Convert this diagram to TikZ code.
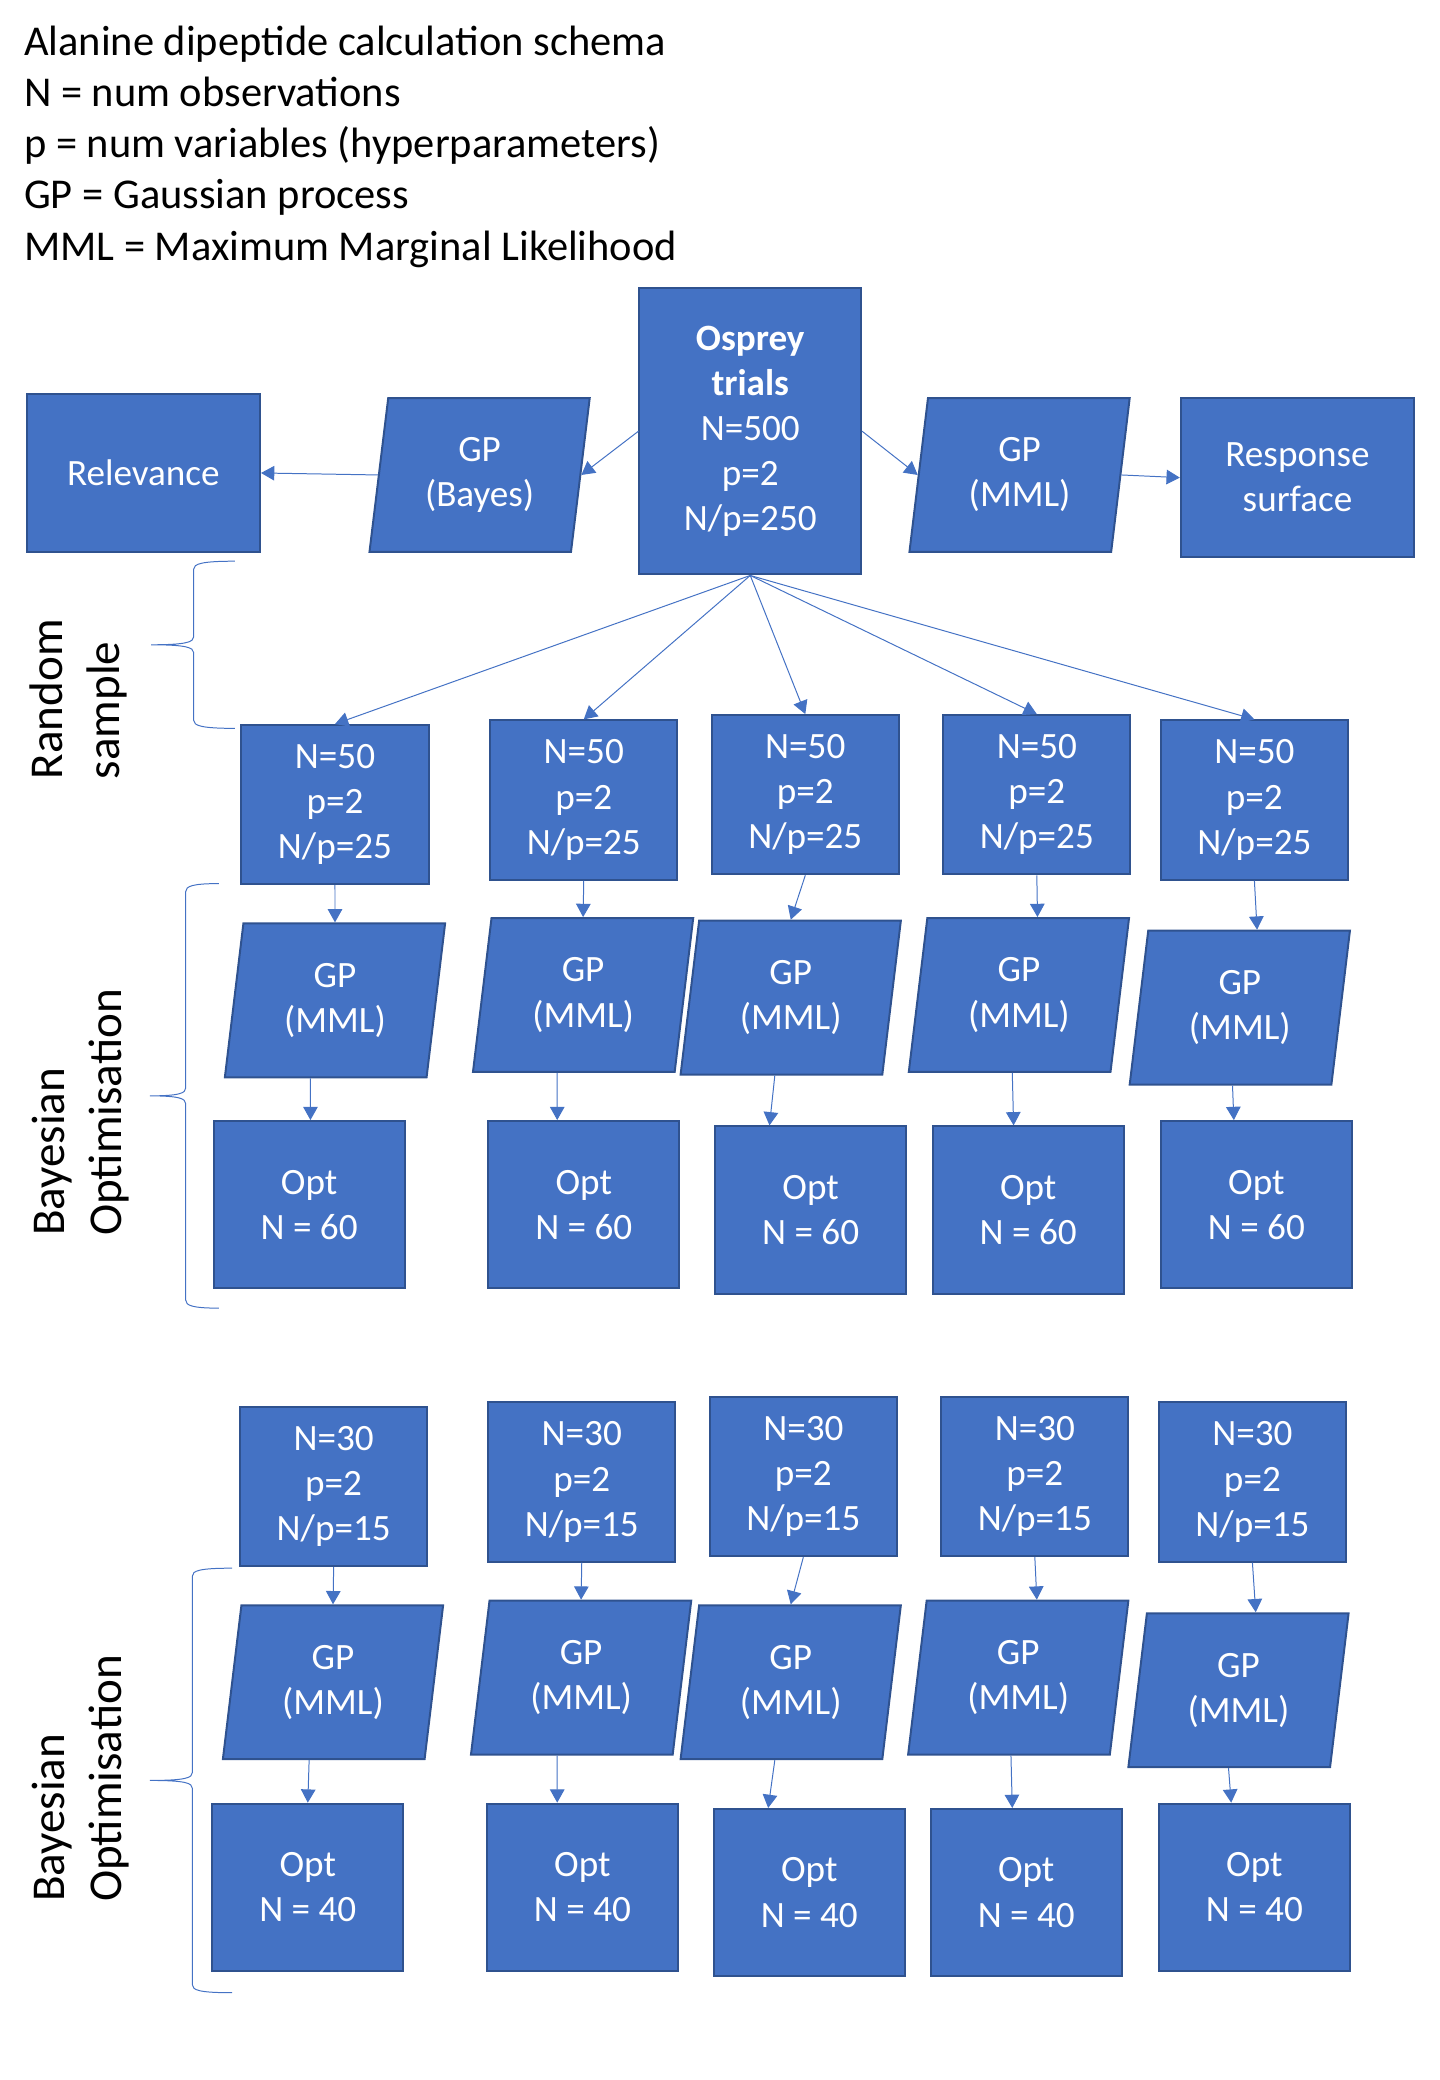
\documentclass[tikz,border=0pt]{standalone}
\usepackage{fontspec}
\setmainfont{Carlito}
\usepackage{tikz}
\usetikzlibrary{shapes.geometric,arrows.meta}
\definecolor{boxblue}{HTML}{4472C4}
\definecolor{boxedge}{HTML}{2F528F}

\tikzset{
  box/.style={rectangle, fill=boxblue, draw=boxedge, line width=1.5pt, text=white,
    align=center, inner sep=0pt, font=\fontsize{28}{34}\selectfont},
  sampbox/.style={box, minimum width=141pt, minimum height=120pt},
  optbox/.style={box, minimum width=144pt, minimum height=126pt},
  gp/.style={box, trapezium, trapezium left angle=76, trapezium right angle=104,
    trapezium stretches body, minimum width=166pt, minimum height=116pt},
  link/.style={draw=boxblue, line width=0.75pt, -{Triangle[length=10pt,width=11pt]}},
  curly/.style={draw=boxblue, line width=0.75pt},
  sidelabel/.style={rotate=90, align=left, inner sep=0pt, font=\fontsize{35.5}{43}\selectfont},
  legend/.style={anchor=base west, inner sep=0pt, font=\fontsize{32}{38.5}\selectfont}
}

\begin{document}
\begin{tikzpicture}[x=1pt,y=-1pt]
        \useasboundingbox (0,0) rectangle (1085.4,1567.8);

        % Legend
        \node[legend] (title) at (18,42) {Alanine dipeptide calculation schema};
        \node[legend] (defN) at (18,80.5) {N = num observations};
        \node[legend] (defp) at (18,119) {p = num variables (hyperparameters)};
        \node[legend] (defGP) at (18,157.5) {GP = Gaussian process};
        \node[legend] (defMML) at (18,196) {MML = Maximum Marginal Likelihood};

        % Full data set and the two fits on it
        \node[box, minimum width=167pt, minimum height=216pt] (osprey) at (565.5,325)
            {\textbf{Osprey}\\\textbf{trials}\\N=500\\p=2\\N/p=250};
        \node[box, minimum width=176pt, minimum height=119pt] (relev) at (108,356.5) {Relevance};
        \node[gp] (gpbayes) at (361.5,358) {GP\\(Bayes)};
        \node[gp] (gpmml) at (768.5,358) {GP\\(MML)};
        \node[box, minimum width=176pt, minimum height=120pt] (resp) at (978,360) {Response\\surface};
        \draw[link] (osprey.west) -- (gpbayes.east);
        \draw[link] (gpbayes.west) -- (relev.east);
        \draw[link] (osprey.east) -- (gpmml.west);
        \draw[link] (gpmml.east) -- (resp.west);

        % Random samples, N=50
        \node[sampbox] (sampa1) at (252.5,606.5) {N=50\\p=2\\N/p=25};
        \node[sampbox] (sampa2) at (440,603) {N=50\\p=2\\N/p=25};
        \node[sampbox] (sampa3) at (607,599) {N=50\\p=2\\N/p=25};
        \node[sampbox] (sampa4) at (781.5,599) {N=50\\p=2\\N/p=25};
        \node[sampbox] (sampa5) at (945.5,603) {N=50\\p=2\\N/p=25};
        \draw[link] (osprey.south) -- (sampa1.north);
        \draw[link] (osprey.south) -- (sampa2.north);
        \draw[link] (osprey.south) -- (sampa3.north);
        \draw[link] (osprey.south) -- (sampa4.north);
        \draw[link] (osprey.south) -- (sampa5.north);

        \node[gp] (gpa1) at (252.5,754) {GP\\(MML)};
        \node[gp] (gpa2) at (439.5,750) {GP\\(MML)};
        \node[gp] (gpa3) at (596,752) {GP\\(MML)};
        \node[gp] (gpa4) at (768,750) {GP\\(MML)};
        \node[gp] (gpa5) at (934.5,759.5) {GP\\(MML)};
        \draw[link] (sampa1.south) -- (gpa1.north);
        \draw[link] (sampa2.south) -- (gpa2.north);
        \draw[link] (sampa3.south) -- (gpa3.north);
        \draw[link] (sampa4.south) -- ([xshift=14pt]gpa4.north);
        \draw[link] (sampa5.south) -- ([xshift=13pt]gpa5.north);

        \node[optbox] (opta1) at (233,908) {Opt\\N = 60};
        \node[optbox] (opta2) at (440,908) {Opt\\N = 60};
        \node[optbox] (opta3) at (611,912) {Opt\\N = 60};
        \node[optbox] (opta4) at (775,912) {Opt\\N = 60};
        \node[optbox] (opta5) at (947,908) {Opt\\N = 60};
        \draw[link] ([xshift=-18.5pt]gpa1.south) -- ([xshift=1pt]opta1.north);
        \draw[link] ([xshift=-19.5pt]gpa2.south) -- ([xshift=-20pt]opta2.north);
        \draw[link] ([xshift=-12pt]gpa3.south) -- ([xshift=-31pt]opta3.north);
        \draw[link] ([xshift=-5pt]gpa4.south) -- ([xshift=-11pt]opta4.north);
        \draw[link] ([xshift=-5.5pt]gpa5.south) -- ([xshift=-17pt]opta5.north);

        % Smaller samples, N=30
        \node[sampbox] (sampb1) at (251.5,1120.5) {N=30\\p=2\\N/p=15};
        \node[sampbox] (sampb2) at (438.5,1117) {N=30\\p=2\\N/p=15};
        \node[sampbox] (sampb3) at (605.5,1113) {N=30\\p=2\\N/p=15};
        \node[sampbox] (sampb4) at (780,1113) {N=30\\p=2\\N/p=15};
        \node[sampbox] (sampb5) at (944,1117) {N=30\\p=2\\N/p=15};

        \node[gp] (gpb1) at (251,1268) {GP\\(MML)};
        \node[gp] (gpb2) at (438,1264.5) {GP\\(MML)};
        \node[gp] (gpb3) at (596,1268) {GP\\(MML)};
        \node[gp] (gpb4) at (767.5,1264.5) {GP\\(MML)};
        \node[gp] (gpb5) at (933.5,1274) {GP\\(MML)};
        \draw[link] (sampb1.south) -- (gpb1.north);
        \draw[link] (sampb2.south) -- (gpb2.north);
        \draw[link] (sampb3.south) -- (gpb3.north);
        \draw[link] (sampb4.south) -- ([xshift=14pt]gpb4.north);
        \draw[link] (sampb5.south) -- ([xshift=13pt]gpb5.north);

        \node[optbox] (optb1) at (232,1422.5) {Opt\\N = 40};
        \node[optbox] (optb2) at (439,1422.5) {Opt\\N = 40};
        \node[optbox] (optb3) at (610,1426.5) {Opt\\N = 40};
        \node[optbox] (optb4) at (773.5,1426.5) {Opt\\N = 40};
        \node[optbox] (optb5) at (945.5,1422.5) {Opt\\N = 40};
        \draw[link] ([xshift=-18pt]gpb1.south) -- (optb1.north);
        \draw[link] ([xshift=-18pt]gpb2.south) -- ([xshift=-19pt]optb2.north);
        \draw[link] ([xshift=-12pt]gpb3.south) -- ([xshift=-31pt]optb3.north);
        \draw[link] ([xshift=-5.5pt]gpb4.south) -- ([xshift=-10.5pt]optb4.north);
        \draw[link] ([xshift=-7.5pt]gpb5.south) -- ([xshift=-17.5pt]optb5.north);

        % Braces and their labels
        \draw[curly] (177,423) .. controls (152,423) and (146,425) .. (146,429) -- (146,480)
            .. controls (146,484) and (140,486) .. (114,486) .. controls (140,486) and (146,488) .. (146,492)
            -- (146,543) .. controls (146,547) and (152,549) .. (177,549);
        \node[sidelabel] (lblrand) at (59,527) {Random\\sample};
        \draw[curly] (165,666) .. controls (145,666) and (140,668) .. (140,672) -- (140,820)
            .. controls (140,824) and (135,826) .. (113,826) .. controls (135,826) and (140,828) .. (140,832)
            -- (140,980) .. controls (140,984) and (145,986) .. (165,986);
        \node[sidelabel] (lblboa) at (61,838.5) {Bayesian\\Optimisation};
        \draw[curly] (175,1182) .. controls (150,1182) and (145,1184) .. (145,1188) -- (145,1336)
            .. controls (145,1340) and (140,1342) .. (113,1342) .. controls (140,1342) and (145,1344) .. (145,1348)
            -- (145,1496) .. controls (145,1500) and (150,1502) .. (175,1502);
        \node[sidelabel] (lblbob) at (61,1340.5) {Bayesian\\Optimisation};
    \end{tikzpicture}
\end{document}
